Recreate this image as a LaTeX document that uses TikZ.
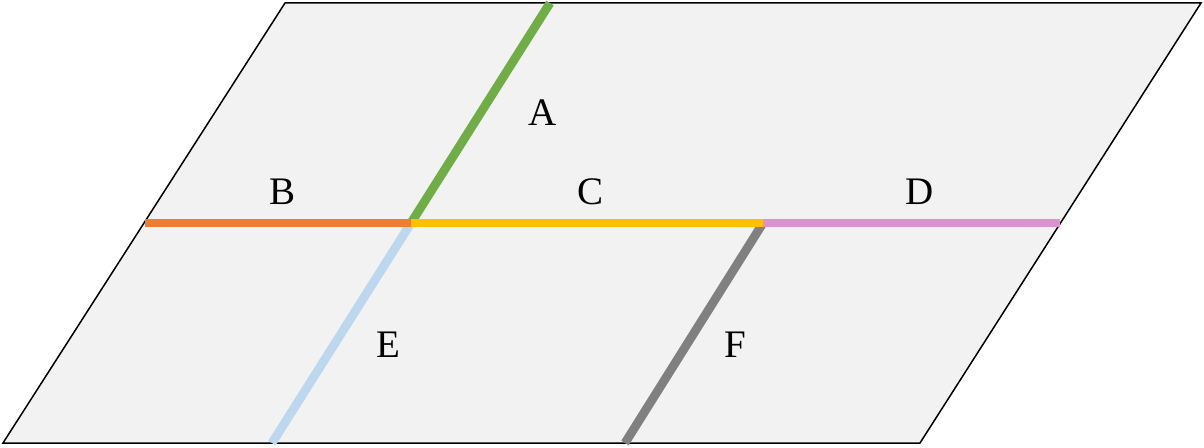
\documentclass[tikz,border=0pt]{standalone}
\usepackage{fontspec}
\setmainfont{Liberation Serif}
\usepackage{tikz}
\usetikzlibrary{positioning, calc}

\definecolor{planefill}{RGB}{242,242,242}
\definecolor{segA}{RGB}{112,173,71}
\definecolor{segB}{RGB}{237,125,49}
\definecolor{segC}{RGB}{255,192,0}
\definecolor{segD}{RGB}{221,146,208}
\definecolor{segE}{RGB}{189,215,238}
\definecolor{segF}{RGB}{128,128,128}

\begin{document}
\begin{tikzpicture}[
    x=0.5pt, y=-0.5pt,
    plane/.style={draw=black, line width=0.75pt, fill=planefill},
    seg/.style={line width=4.4pt, line cap=butt},
    lbl/.style={inner sep=0pt, font=\fontsize{19.5}{19.5}\selectfont}
]
    \useasboundingbox (0,0) rectangle (1204,448);

    % Plane
    \coordinate (tl) at (285,3);
    \coordinate (tr) at (1201,3);
    \coordinate (br) at (920,443);
    \coordinate (bl) at (3,443);
    \draw[plane] (tl) -- (tr) -- (br) -- (bl) -- cycle;

    % Points on the lines
    \coordinate (left) at (145,223);
    \coordinate (jleft) at (411,223);
    \coordinate (jright) at (763,223);
    \coordinate (right) at (1060,223);
    \coordinate (topA) at (550,3);
    \coordinate (botE) at (272,443);
    \coordinate (botF) at (625,443);

    % Slanted lines
    \draw[seg, segA] (jleft) -- (topA);
    \draw[seg, segE] (jleft) -- (botE);
    \draw[seg, segF] (jright) -- (botF);

    % Horizontal line
    \draw[seg, segB] (left) -- (jleft);
    \draw[seg, segC] (jleft) -- (jright);
    \draw[seg, segD] (jright) -- (right);

    % Labels
    \node[lbl] (labA) at (543,113) {A};
    \node[lbl] (labB) at (283,192) {B};
    \node[lbl] (labC) at (590,192) {C};
    \node[lbl] (labD) at (920,192) {D};
    \node[lbl] (labE) at (388,345) {E};
    \node[lbl] (labF) at (735,345) {F};
\end{tikzpicture}
\end{document}
